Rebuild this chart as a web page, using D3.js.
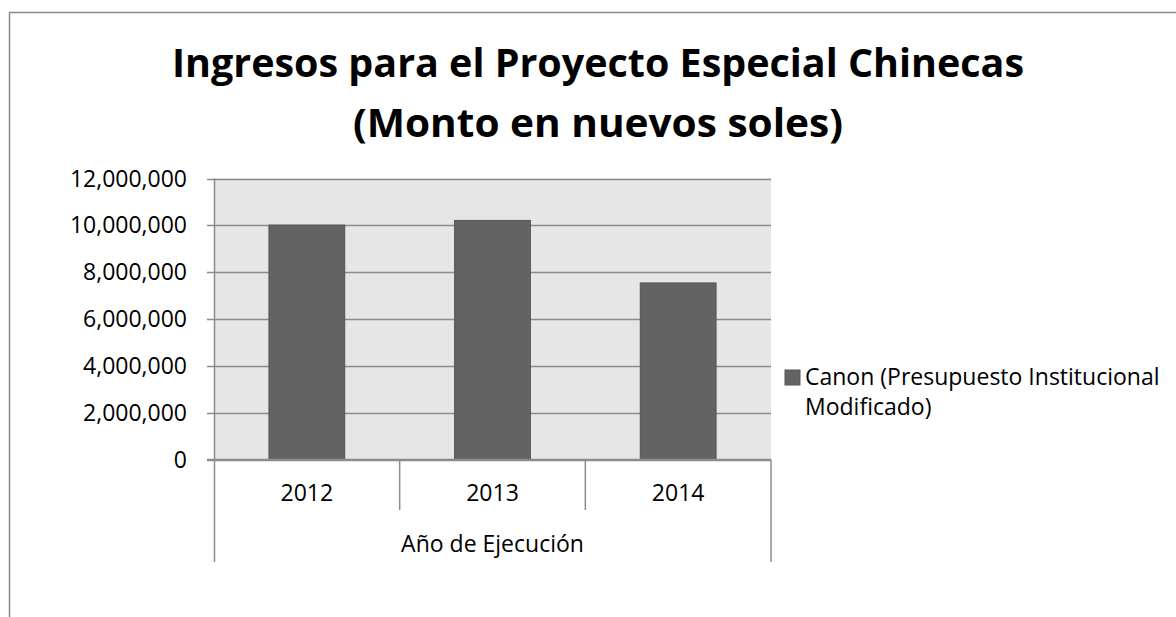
<!DOCTYPE html>
<html>
<head>
<meta charset="utf-8">
<script src="https://cdn.jsdelivr.net/npm/d3@7"></script>
<style>
  body { margin: 0; background: #ffffff; }
  svg { display: block; }
  text { font-family: "Open Sans", "Noto Sans", sans-serif; fill: #000000; }
</style>
</head>
<body>
<script>
    //Width and height
    var width = 1176;
    var height = 617;

    // chart data
    var years = ["2012", "2013", "2014"];
    var canon = [10010000, 10210000, 7540000];
    var yTicks = [0, 2000000, 4000000, 6000000, 8000000, 10000000, 12000000];
    var titleLines = ["Ingresos para el Proyecto Especial Chinecas", "(Monto en nuevos soles)"];
    var axisTitle = "Año de Ejecución";
    var legendLines = ["Canon (Presupuesto Institucional", "Modificado)"];

    var plotLeft = 214, plotRight = 771, plotTop = 178.5, plotBottom = 459.5;

    var xScale = d3.scaleBand()
                    .domain(years)
                    .range([plotLeft, plotRight])
                    .paddingInner(0);

    var yScale = d3.scaleLinear()
                    .domain([0, 12000000])
                    .range([plotBottom, plotTop]);

    var barWidth = xScale.bandwidth() / 2.45;
    var fmt = d3.format(",");

    var svg = d3.select("body")
                .append("svg")
                .attr("width", width)
                .attr("height", height);

    // outer chart frame (runs off the right and bottom of the picture)
    svg.append("rect")
        .attr("x", 9.5)
        .attr("y", 12.5)
        .attr("width", 1300)
        .attr("height", 700)
        .attr("fill", "none")
        .attr("stroke", "#8a8a8a")
        .attr("stroke-width", 1.5);

    // title
    svg.selectAll("text.title")
        .data(titleLines)
        .enter()
        .append("text")
        .attr("class", "title")
        .attr("x", 598)
        .attr("y", function(d, i){ return i == 0 ? 77 : 137; })
        .attr("text-anchor", "middle")
        .attr("textLength", function(d, i){ return i == 0 ? 852 : 490; })
        .attr("lengthAdjust", "spacingAndGlyphs")
        .style("font-size", "40px")
        .style("font-weight", "bold")
        .text(function(d){ return d; });

    // plot background
    svg.append("rect")
        .attr("x", plotLeft)
        .attr("y", plotTop)
        .attr("width", plotRight - plotLeft)
        .attr("height", plotBottom - plotTop)
        .attr("fill", "#e6e6e6");

    // gridlines
    svg.selectAll("line.grid")
        .data(yTicks)
        .enter()
        .append("line")
        .attr("class", "grid")
        .attr("x1", plotLeft - 7)
        .attr("x2", plotRight)
        .attr("y1", function(d){ return Math.round(yScale(d)) + 0.5; })
        .attr("y2", function(d){ return Math.round(yScale(d)) + 0.5; })
        .attr("stroke", "#8c8c8c")
        .attr("stroke-width", 1.5);

    // y axis labels
    svg.selectAll("text.ylab")
        .data(yTicks)
        .enter()
        .append("text")
        .attr("class", "ylab")
        .attr("x", 187)
        .attr("y", function(d){ return yScale(d) + 8; })
        .attr("text-anchor", "end")
        .style("font-size", "23px")
        .text(function(d){ return fmt(d); });

    // bars
    svg.selectAll("rect.bar")
        .data(canon)
        .enter()
        .append("rect")
        .attr("class", "bar")
        .attr("x", function(d, i){
            return xScale(years[i]) + (xScale.bandwidth() - barWidth) / 2;
        })
        .attr("y", function(d){ return yScale(d); })
        .attr("width", barWidth)
        .attr("height", function(d){ return plotBottom - yScale(d); })
        .attr("fill", "#636363")
        .attr("stroke", "#545454")
        .attr("stroke-width", 1);

    // y axis line and category baseline
    svg.append("line")
        .attr("x1", plotLeft + 0.5).attr("x2", plotLeft + 0.5)
        .attr("y1", plotTop).attr("y2", 562)
        .attr("stroke", "#8c8c8c")
        .attr("stroke-width", 1.5);

    svg.append("line")
        .attr("x1", plotLeft - 7).attr("x2", plotRight)
        .attr("y1", plotBottom).attr("y2", plotBottom)
        .attr("stroke", "#8c8c8c")
        .attr("stroke-width", 1.5);

    // category separators
    var seps = years.slice(1).map(function(d){ return xScale(d); });
    svg.selectAll("line.sep")
        .data(seps)
        .enter()
        .append("line")
        .attr("class", "sep")
        .attr("x1", function(d){ return d; })
        .attr("x2", function(d){ return d; })
        .attr("y1", plotBottom)
        .attr("y2", 510)
        .attr("stroke", "#8c8c8c")
        .attr("stroke-width", 1.5);

    svg.append("line")
        .attr("x1", plotRight).attr("x2", plotRight)
        .attr("y1", plotBottom).attr("y2", 562)
        .attr("stroke", "#8c8c8c")
        .attr("stroke-width", 1.5);

    // category labels
    svg.selectAll("text.xlab")
        .data(years)
        .enter()
        .append("text")
        .attr("class", "xlab")
        .attr("x", function(d){ return xScale(d) + xScale.bandwidth() / 2; })
        .attr("y", 501)
        .attr("text-anchor", "middle")
        .style("font-size", "23px")
        .text(function(d){ return d; });

    svg.append("text")
        .attr("x", (plotLeft + plotRight) / 2)
        .attr("y", 552)
        .attr("text-anchor", "middle")
        .style("font-size", "23px")
        .text(axisTitle);

    // legend
    svg.append("rect")
        .attr("x", 785)
        .attr("y", 370)
        .attr("width", 15)
        .attr("height", 15)
        .attr("fill", "#636363")
        .attr("stroke", "#545454");

    svg.selectAll("text.leg")
        .data(legendLines)
        .enter()
        .append("text")
        .attr("class", "leg")
        .attr("x", 805)
        .attr("y", function(d, i){ return 385 + i * 30; })
        .style("font-size", "23px")
        .text(function(d){ return d; });
</script>
</body>
</html>
